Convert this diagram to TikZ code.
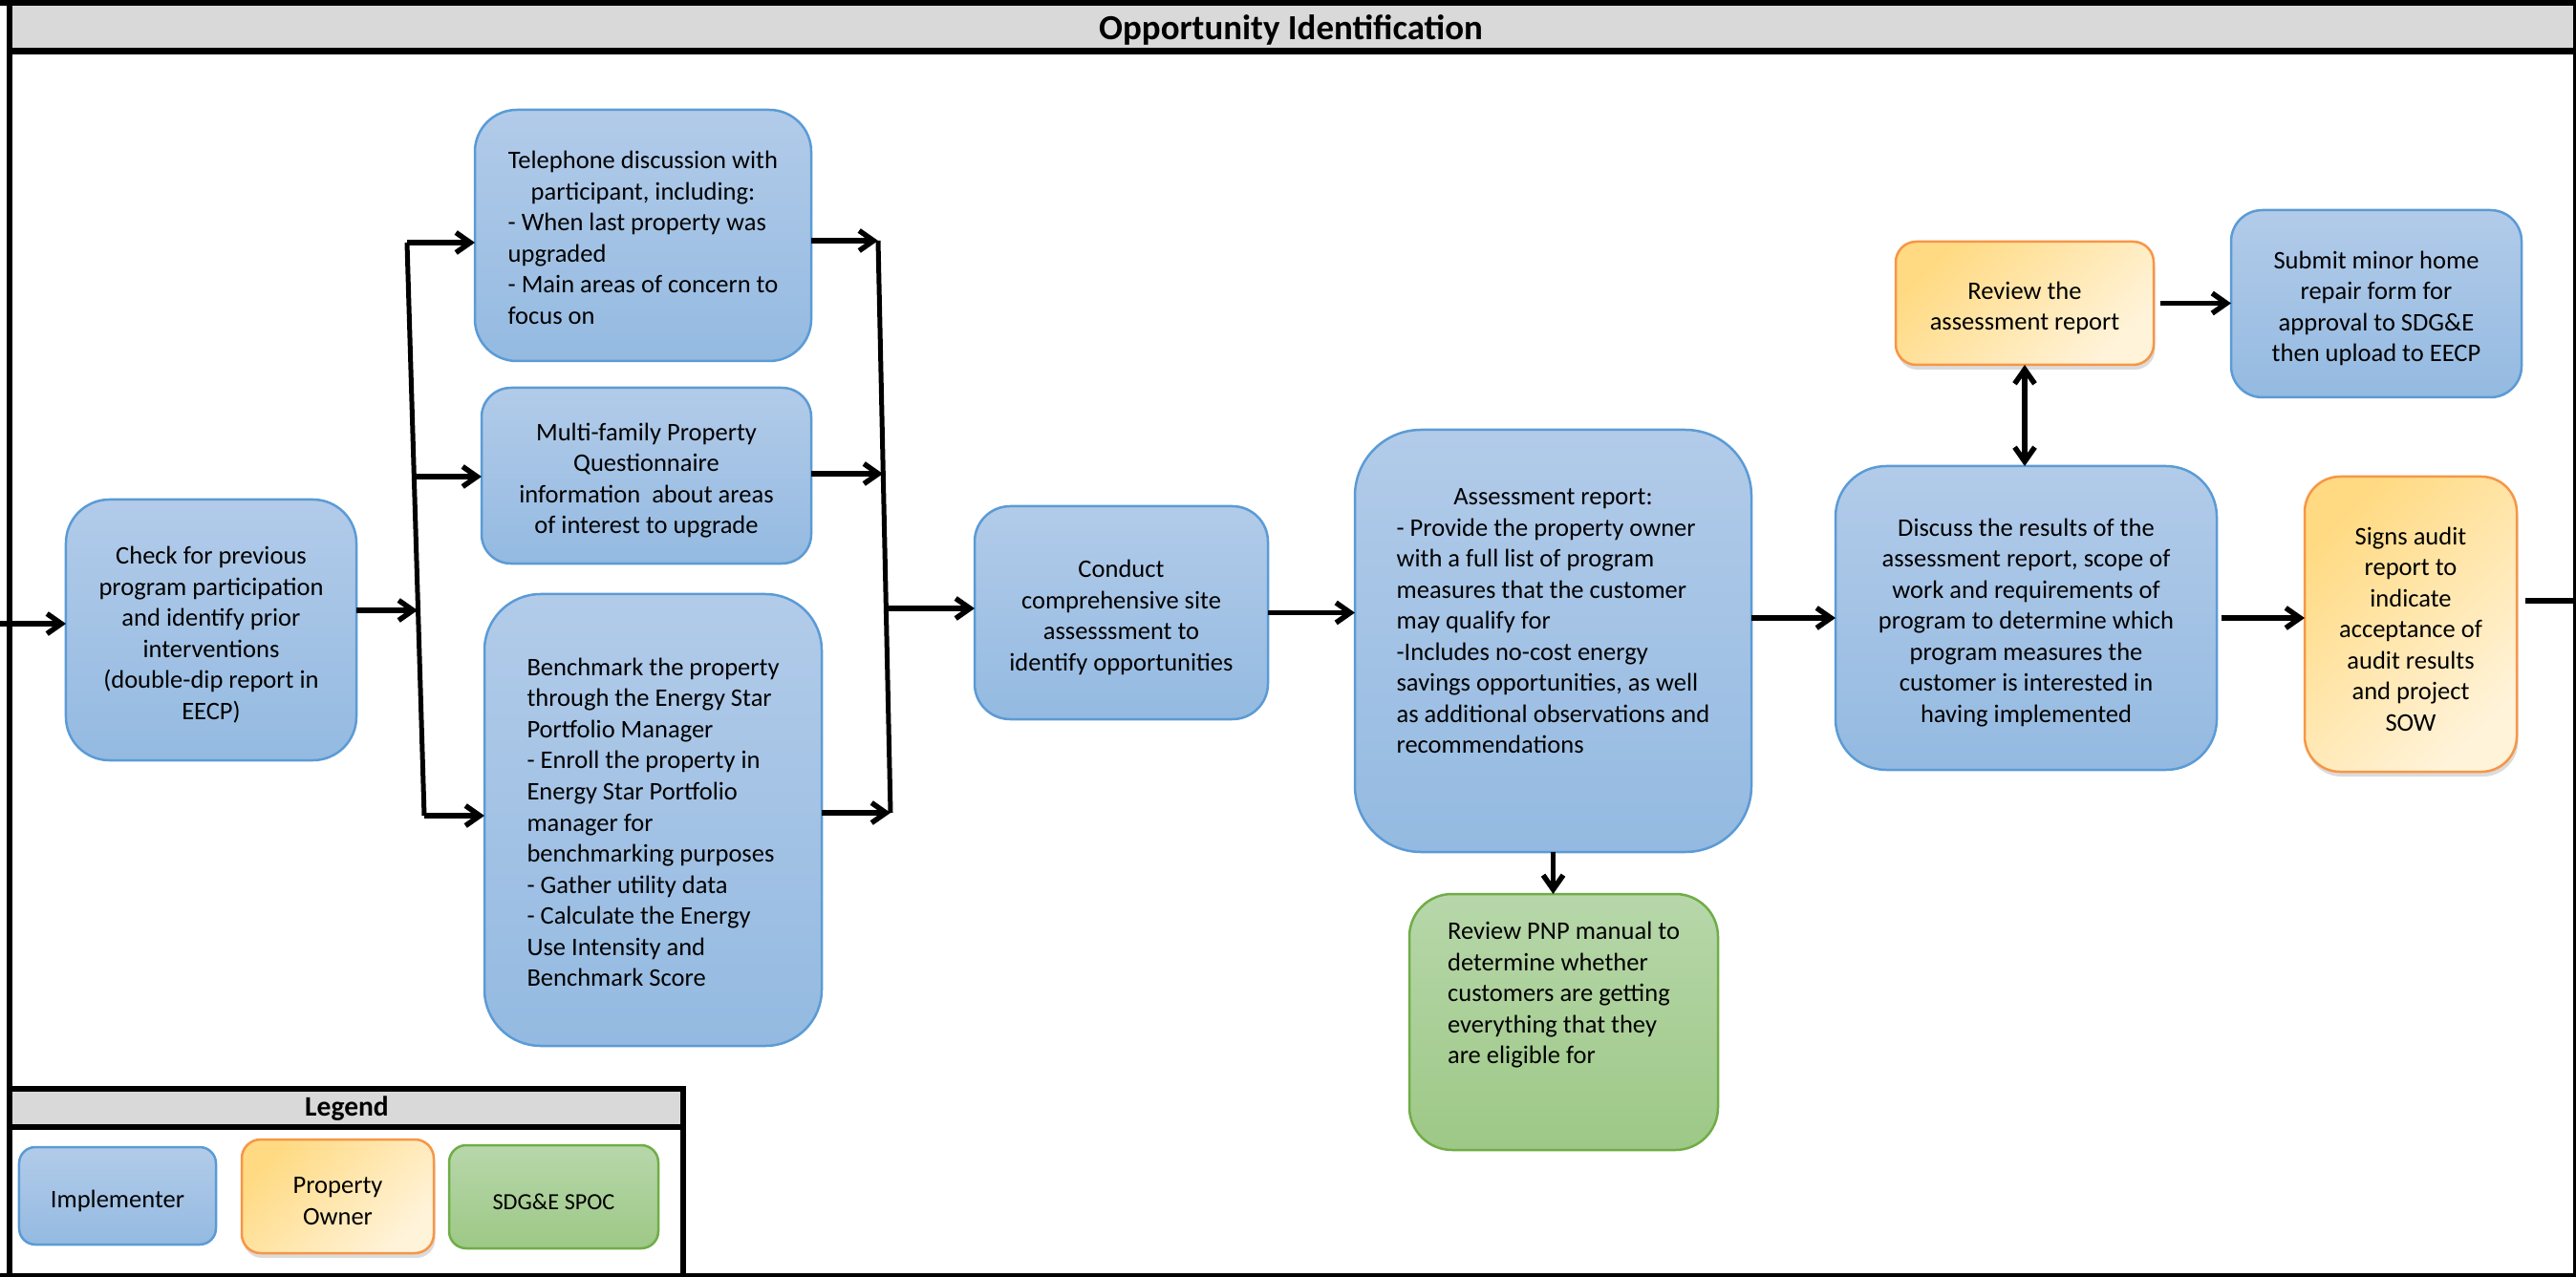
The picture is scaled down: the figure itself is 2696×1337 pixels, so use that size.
\documentclass[tikz,border=0pt]{standalone}
\usepackage{fontspec}
\setmainfont{Carlito}
\usetikzlibrary{arrows.meta,shadows}
\definecolor{blueT}{RGB}{178,203,233}
\definecolor{blueBot}{RGB}{148,186,225}
\definecolor{blueB}{RGB}{91,155,213}
\definecolor{orT}{RGB}{255,218,130}
\definecolor{orBot}{RGB}{255,243,218}
\definecolor{orB}{RGB}{247,150,70}
\definecolor{grT}{RGB}{183,215,170}
\definecolor{grBot}{RGB}{157,200,134}
\definecolor{grB}{RGB}{112,173,71}
\definecolor{bandgray}{RGB}{217,217,217}
% box with vertically centred text (slightly lowered, as in the reference)
\newcommand\flowbox[7]{%
  \pgfmathsetmacro\bw{(#5-#3)*0.02}%
  \pgfmathsetmacro\bh{(#6-#4)*0.02}%
  \pgfmathsetmacro\br{min(\bw,\bh)/6}%
  \pgfmathsetmacro\bx{(#3+#5)/2}%
  \pgfmathsetmacro\by{(#4+#6)/2}%
  \node[#1, minimum width=\bw cm, minimum height=\bh cm, rounded corners=\br cm] (#2) at (\bx,\by)
    {\parbox[c][\bh cm][c]{\bw cm}{\centering\vspace*{0.2cm}#7}};}
% box whose content is given as is
\newcommand\flowboxraw[7]{%
  \pgfmathsetmacro\bw{(#5-#3)*0.02}%
  \pgfmathsetmacro\bh{(#6-#4)*0.02}%
  \pgfmathsetmacro\br{min(\bw,\bh)/6}%
  \pgfmathsetmacro\bx{(#3+#5)/2}%
  \pgfmathsetmacro\by{(#4+#6)/2}%
  \node[#1, minimum width=\bw cm, minimum height=\bh cm, rounded corners=\br cm] (#2) at (\bx,\by) {#7};}
\tikzset{
  base/.style={inner sep=0pt, outer sep=0pt, line width=0.05cm,
    font=\fontsize{15.1}{18.5}\selectfont},
  bluebox/.style={base, draw=blueB, top color=blueT, bottom color=blueBot},
  orangebox/.style={base, draw=orB, top color=orT, bottom color=orBot, shading angle=45,
    drop shadow={shadow xshift=0.03cm, shadow yshift=-0.1cm, opacity=0.2, fill=black!70}},
  greenbox/.style={base, draw=grB, top color=grT, bottom color=grBot},
  >={Straight Barb[length=0.3cm,width=0.42cm]},
  arr/.style={line width=0.11cm, ->},
  darr/.style={line width=0.11cm, <->},
  plain/.style={line width=0.11cm},
  barline/.style={line width=0.1cm},
}
\begin{document}
\begin{tikzpicture}[x=0.02cm, y=-0.02cm]
\useasboundingbox (0,0) rectangle (2696,1337);
\fill[white] (0,0) rectangle (2696,1337);
% title band and frame
\fill[bandgray] (10,6) rectangle (2694,50);
\node[font=\fontsize{21}{25}\selectfont\bfseries, inner sep=0pt] (title) at (1351,31) {Opportunity Identification};
\draw[line width=0.12cm] (0,3) -- (2696,3);
\draw[line width=0.14cm] (10,53.5) -- (2694,53.5);
\draw[line width=0.12cm] (10,0) -- (10,1337);
\draw[line width=0.06cm] (2694.5,0) -- (2694.5,1337);
\draw[line width=0.09cm] (0,1334.8) -- (2696,1334.8);
% legend frame
\fill[bandgray] (13,1143) rectangle (712,1177);
\draw[line width=0.12cm] (10,1140) -- (718,1140);
\draw[line width=0.12cm] (10,1180) -- (718,1180);
\draw[line width=0.12cm] (715,1137) -- (715,1337);
\node[font=\fontsize{16.8}{20}\selectfont\bfseries, inner sep=0pt] (legend) at (363,1161) {Legend};

% boxes
\flowbox{bluebox}{check}{69}{523}{373}{796}{Check for previous\\program participation\\and identify prior\\interventions\\(double-dip report in\\EECP)}
\flowbox{bluebox}{tele}{497}{115}{849}{378}{\begin{tabular}{@{}l@{}}\multicolumn{1}{@{}c@{}}{Telephone discussion with}\\ \multicolumn{1}{@{}c@{}}{participant, including:}\\ - When last property was\\ upgraded\\ - Main areas of concern to\\ focus on\end{tabular}}
\flowbox{bluebox}{multi}{504}{406}{849}{590}{Multi-family Property\\Questionnaire\\information\ \ about areas\\of interest to upgrade}
\flowbox{bluebox}{bench}{507}{622}{860}{1095}{\begin{tabular}{@{}l@{}}Benchmark the property\\ through the Energy Star\\ Portfolio Manager\\ - Enroll the property in\\ Energy Star Portfolio\\ manager for\\ benchmarking purposes\\ - Gather utility data\\ - Calculate the Energy\\ Use Intensity and\\ Benchmark Score\end{tabular}}
\flowbox{bluebox}{conduct}{1020}{530}{1327}{753}{Conduct\\comprehensive site\\assesssment to\\identify opportunities}
\flowboxraw{bluebox}{assess}{1418}{450}{1833}{892}{\parbox[c][\bh cm][t]{\bw cm}{\vspace*{1.12cm}\centering\begin{tabular}{@{}l@{}}\multicolumn{1}{@{}c@{}}{Assessment report:}\\ - Provide the property owner\\ with a full list of program\\ measures that the customer\\ may qualify for\\ -Includes no-cost energy\\ savings opportunities, as well\\ as additional observations and\\ recommendations\end{tabular}}}
\flowboxraw{greenbox}{pnp}{1475}{936}{1798}{1204}{\parbox[c][\bh cm][t]{\bw cm}{\vspace*{0.5cm}\centering\begin{tabular}{@{}l@{}}Review PNP manual to\\ determine whether\\ customers are getting\\ everything that they\\ are eligible for\end{tabular}}}
\flowbox{orangebox}{review}{1984}{253}{2254}{382}{Review the\\assessment report}
\flowbox{bluebox}{submit}{2335}{220}{2639}{416}{Submit minor home\\repair form for\\approval to SDG\&E\\then upload to EECP}
\flowbox{bluebox}{discuss}{1921}{488}{2320}{806}{Discuss the results of the\\assessment report, scope of\\work and requirements of\\program to determine which\\program measures the\\customer is interested in\\having implemented}
\flowbox{orangebox}{signs}{2412}{499}{2634}{808}{Signs audit\\report to\\indicate\\acceptance of\\audit results\\and project\\SOW}
% legend boxes
\flowbox{bluebox}{limpl}{20}{1201}{226}{1303}{Implementer}
\flowbox{orangebox}{lowner}{253}{1193}{454}{1312}{Property\\Owner}
\flowbox{greenbox}{lspoc}{470}{1199}{689}{1307}{\fontsize{13.8}{16.5}\selectfont SDG\&E SPOC}

% coordinates for bars and free ends
\coordinate (in0) at (0,653);
\coordinate (L1) at (426,254);
\coordinate (LB) at (437,639);
\coordinate (LM) at (433,499);
\coordinate (L2) at (444,854);
\coordinate (R1) at (919,252);
\coordinate (RM) at (924,496);
\coordinate (RO) at (927,637);
\coordinate (R2) at (932,851);
\coordinate (out0) at (2696,629);

% connectors
\draw[arr] (in0) -- (in0 -| check.west);
\draw[arr] (check.east |- LB) -- (LB);
\draw[barline] (L1) -- (L2);
\draw[arr] (L1) -- (L1 -| tele.west);
\draw[arr] (LM) -- (LM -| multi.west);
\draw[arr] (L2) -- (L2 -| bench.west);
\draw[arr] (tele.east |- R1) -- (R1);
\draw[arr] (multi.east |- RM) -- (RM);
\draw[arr] (bench.east |- R2) -- (R2);
\draw[barline] (R1) -- (R2);
\draw[arr] (RO) -- (RO -| conduct.west);
\draw[arr] (conduct.east) -- (conduct.east -| assess.west);
\draw[arr] (assess.south) -- (assess.south |- pnp.north);
\draw[arr] (discuss.west -| assess.east) -- (discuss.west);
\draw[darr] (review.south) -- (review.south |- discuss.north);
\draw[arr, shorten <=0.14cm] (review.east) -- (review.east -| submit.west);
\draw[arr, shorten <=0.1cm] (discuss.east) -- (discuss.east -| signs.west);
\draw[plain, shorten <=0.18cm] (signs.east |- out0) -- (out0);
\end{tikzpicture}
\end{document}
